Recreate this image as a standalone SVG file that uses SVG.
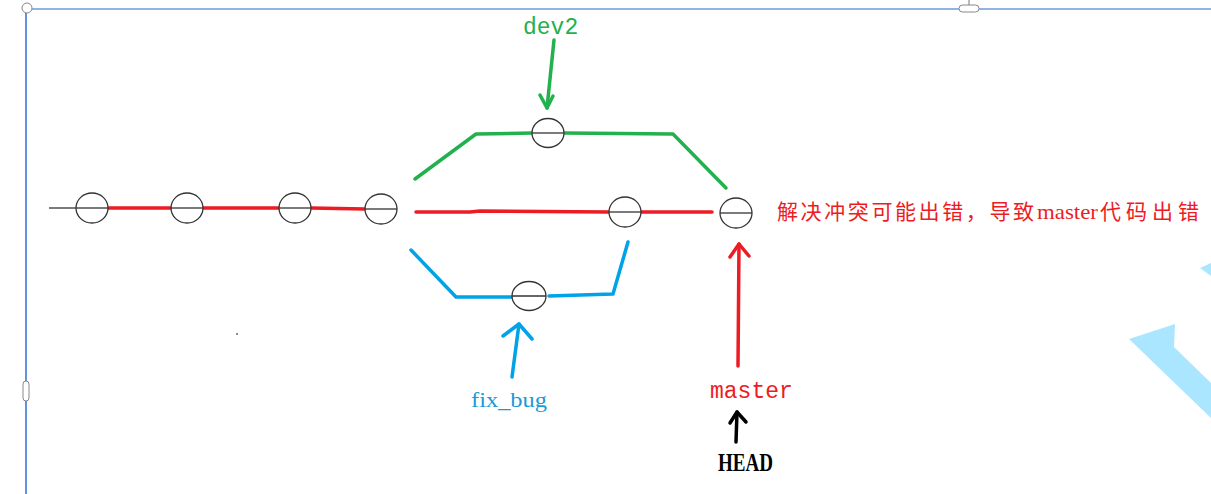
<svg xmlns="http://www.w3.org/2000/svg" width="1211" height="494" viewBox="0 0 1211 494">
<style>
.node ellipse{fill:#fff;stroke:#333;stroke-width:1.3}
.node line{stroke:#333;stroke-width:1.3}
.red{stroke:#ed1c24;stroke-width:3.5;fill:none;stroke-linecap:round;stroke-linejoin:round}
.green{stroke:#22b14c;stroke-width:3.5;fill:none;stroke-linecap:round;stroke-linejoin:round}
.blue{stroke:#00a2e8;stroke-width:3.5;fill:none;stroke-linecap:round;stroke-linejoin:round}
.black{stroke:#000;stroke-width:3.5;fill:none;stroke-linecap:round;stroke-linejoin:round}
.mono{font-family:"Liberation Mono","DejaVu Sans Mono",monospace;font-size:23px}
.serif{font-family:"Liberation Serif","Noto Sans CJK SC",serif}
</style>
<rect width="1211" height="494" fill="#fff"/>
<g id="frame">
<line x1="27" y1="9" x2="1211" y2="9" stroke="#6f9ae0" stroke-width="1.5"/>
<line x1="26" y1="13" x2="26" y2="494" stroke="#2b6fd8" stroke-width="1.5"/>
<circle cx="27" cy="8" r="5" fill="#fff" stroke="#888" stroke-width="1"/>
<line x1="969" y1="0" x2="969" y2="5" stroke="#777" stroke-width="1"/>
<rect x="959" y="5" width="20" height="7" rx="3.5" fill="#fff" stroke="#888" stroke-width="1"/>
<rect x="23" y="381" width="6" height="20" rx="3" fill="#fff" stroke="#888" stroke-width="1"/>
</g>
<g id="decoration">
<polygon points="1129,339 1175,324 1174,347 1211,383 1211,418" fill="#aae6ff"/>
<polygon points="1200,268 1211,263 1211,276" fill="#aae6ff"/>
<circle cx="237" cy="334" r="1" fill="#666"/>
</g>
<g id="connectors">
<line x1="49" y1="208" x2="76" y2="208" stroke="#333" stroke-width="1.3"/>
<line class="red" x1="108" y1="208" x2="171" y2="208"/>
<line class="red" x1="203" y1="208" x2="279" y2="208"/>
<line class="red" x1="311" y1="208" x2="365" y2="209"/>
<polyline class="red" points="416,212 470,212 480,211 609,212"/>
<line class="red" x1="641" y1="212" x2="712" y2="212"/>
<polyline class="green" points="415,179 476,134 532,133"/>
<polyline class="green" points="564,133 673,134 726,188"/>
<polyline class="blue" points="411,250 456,297 512,297"/>
<polyline class="blue" points="549,296 613,294 628,242"/>
<line class="green" x1="554" y1="40" x2="547" y2="108"/>
<polyline class="green" points="540,95 547,108 553,96"/>
<line class="blue" x1="512" y1="377" x2="519" y2="324"/>
<polyline class="blue" points="503,336 519,324 532,339"/>
<line class="red" x1="738" y1="366" x2="739" y2="244"/>
<polyline class="red" points="730,257 739,244 749,256"/>
<line class="black" x1="736" y1="442" x2="737" y2="412"/>
<polyline class="black" points="730,423 737,412 746,422"/>
</g>
<g id="n1" class="node"><ellipse cx="92" cy="208" rx="16" ry="15"/><line x1="76" y1="208" x2="108" y2="208"/></g>
<g id="n2" class="node"><ellipse cx="187" cy="208" rx="16" ry="15"/><line x1="171" y1="208" x2="203" y2="208"/></g>
<g id="n3" class="node"><ellipse cx="295" cy="208" rx="16" ry="15"/><line x1="279" y1="208" x2="311" y2="208"/></g>
<g id="n4" class="node"><ellipse cx="381" cy="209" rx="16" ry="15"/><line x1="365" y1="209" x2="397" y2="209"/></g>
<g id="n5" class="node"><ellipse cx="548" cy="133" rx="16" ry="14.5"/><line x1="532" y1="133" x2="564" y2="133"/></g>
<g id="n6" class="node"><ellipse cx="625" cy="212" rx="16" ry="15"/><line x1="609" y1="212" x2="641" y2="212"/></g>
<g id="n7" class="node"><ellipse cx="529" cy="296" rx="17" ry="14.5"/><line x1="512" y1="296" x2="546" y2="296"/></g>
<g id="n8" class="node"><ellipse cx="736" cy="213" rx="16" ry="15"/><line x1="720" y1="213" x2="752" y2="213"/></g>
<g id="labels">
<text class="mono" x="523" y="34" fill="#22b14c">dev2</text>
<text class="mono" x="710" y="398" fill="#ed1c24">master</text>
<text class="serif" x="471" y="407" font-size="21" fill="#1a9ad6" textLength="76" lengthAdjust="spacingAndGlyphs">fix_bug</text>
<text class="serif" x="718" y="471" font-size="25" font-weight="bold" fill="#000" textLength="55" lengthAdjust="spacingAndGlyphs">HEAD</text>
<text class="serif" y="219" font-size="21" fill="#ed1c24"><tspan x="777 800.6 824.2 847.8 871.4 895 918.6 942.2 965.8 989.4 1013">解决冲突可能出错，导致</tspan><tspan x="1037" textLength="61" lengthAdjust="spacingAndGlyphs">master</tspan><tspan x="1100 1126 1152 1178">代码出错</tspan></text>
</g>
</svg>
